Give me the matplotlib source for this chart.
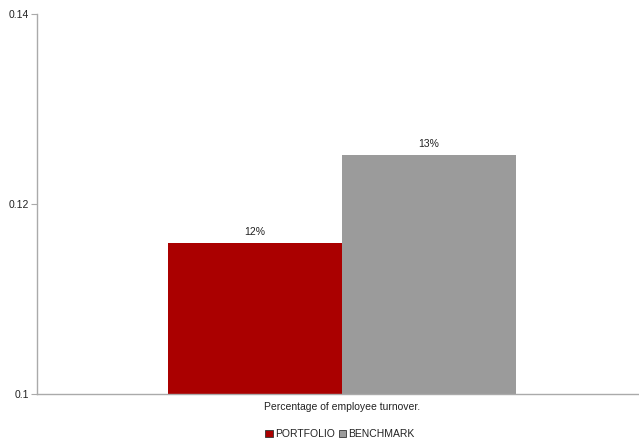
import matplotlib.pyplot as plt
from matplotlib.patches import Patch
import numpy as np

plt.rcParams['font.family'] = ['Liberation Sans', 'DejaVu Sans']

category = ['Percentage of employee turnover.']
series = ['PORTFOLIO', 'BENCHMARK']
values = [0.1159, 0.1252]
labels = ['12%', '13%']
colors = ['#AA0000', '#9B9B9B']

fig = plt.figure(figsize=(6.39, 4.43), dpi=100)
ax = fig.add_axes([37/639, 49/443, 610/639, 380/443])

w = 0.285
x = np.arange(len(category))
for i, (s, v, lab, c) in enumerate(zip(series, values, labels, colors)):
    pos = x + (i - 0.5) * w
    ax.bar(pos, v, width=w, color=c, label=s, edgecolor='none')
    ax.text(pos[0], v + 0.0006, lab, ha='center', va='bottom', fontsize=7.5, color='#222222')

ax.set_xlim(-0.5, 0.5)
ax.set_ylim(0.1, 0.14)
ax.set_yticks([0.1, 0.12, 0.14])
ax.set_yticklabels(['0.1', '0.12', '0.14'])
ax.set_xticks(x)
ax.set_xticklabels(category)

for side in ['top', 'right']:
    ax.spines[side].set_visible(False)
for side in ['left', 'bottom']:
    ax.spines[side].set_color('#AAAAAA')
    ax.spines[side].set_linewidth(1)
ax.tick_params(axis='y', length=4, color='#AAAAAA', labelsize=7.5, labelcolor='#222222', pad=2)
ax.tick_params(axis='x', length=0, labelsize=7.5, labelcolor='#222222', pad=6)

handles = [Patch(facecolor=c, edgecolor='#333333', linewidth=0.6) for c in colors]
leg = fig.legend(handles, series, loc='center', bbox_to_anchor=(340/639, 1 - 434/443),
                 ncol=2, frameon=False, fontsize=7.5, handlelength=0.7, handleheight=0.7,
                 handletextpad=0.2, columnspacing=0.4, borderpad=0)
for t in leg.get_texts():
    t.set_color('#222222')

fig.savefig('out.png', dpi=100)
